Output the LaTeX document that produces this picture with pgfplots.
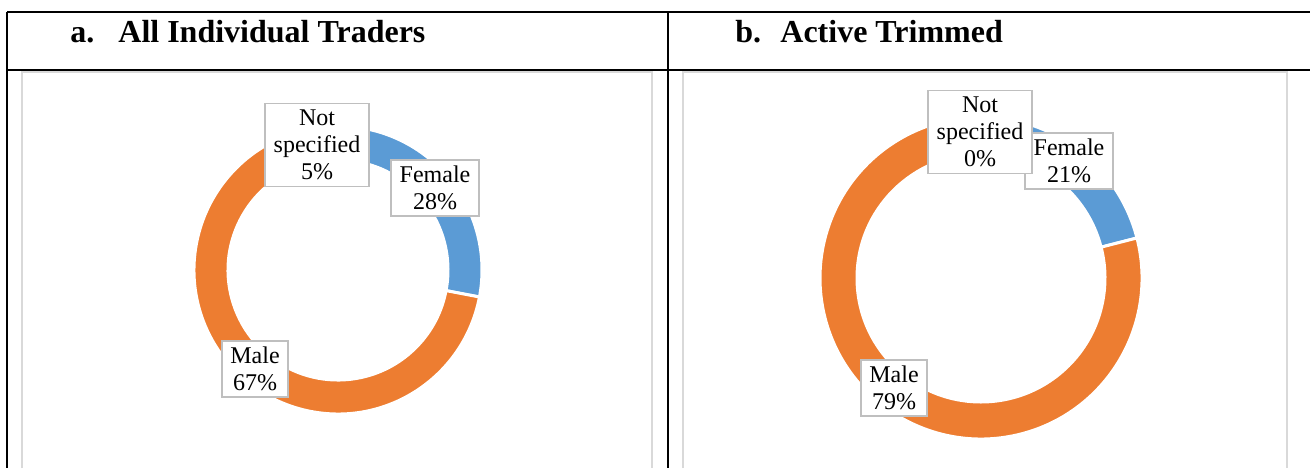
\documentclass[border=0pt]{standalone}
\usepackage{fontspec}
\setmainfont{Liberation Serif}
\usepackage{pgfplots}
\usepackage{pgfplotstable}
\pgfplotsset{compat=1.18}
\definecolor{cFemale}{HTML}{5B9BD5}
\definecolor{cMale}{HTML}{ED7D31}
\definecolor{cNotspec}{HTML}{A5A5A5}
\definecolor{boxline}{HTML}{BFBFBF}
\definecolor{frameline}{HTML}{D9D9D9}

% shares in percent, in Excel's slice order
\pgfplotstableread{
label value
Female 28
Male 67
Notspec 5
}\tradersall
\pgfplotstableread{
label value
Female 21
Male 79
Notspec 0
}\tradersactive

% donut from a table, clockwise from 12 o'clock
% #1 table, #2 cx, #3 cy, #4 outer r, #5 inner r (axis units, 1 unit = 0.5pt)
\newcommand{\donut}[5]{%
  \def\cum{0}%
  \pgfplotstablegetrowsof{#1}%
  \pgfmathtruncatemacro{\nrows}{\pgfplotsretval-1}%
  \pgfplotsforeachungrouped \i in {0,...,\nrows}{%
    \pgfplotstablegetelem{\i}{value}\of{#1}\let\val\pgfplotsretval
    \pgfplotstablegetelem{\i}{label}\of{#1}\let\lab\pgfplotsretval
    \pgfmathsetmacro{\aone}{90-3.6*\cum}%
    \pgfmathsetmacro{\atwo}{90-3.6*(\cum+\val)}%
    \pgfmathsetmacro{\px}{#2+#4*cos(\aone)}%
    \pgfmathsetmacro{\py}{#3+#4*sin(\aone)}%
    \pgfmathsetmacro{\qx}{#2+#5*cos(\atwo)}%
    \pgfmathsetmacro{\qy}{#3+#5*sin(\atwo)}%
    \pgfmathsetmacro{\ro}{0.5*#4}%
    \pgfmathsetmacro{\ri}{0.5*#5}%
    \edef\slice{\noexpand\filldraw[fill=c\lab, draw=white, line width=1.5pt]
      (axis cs:\px,\py) arc[start angle=\aone, end angle=\atwo, radius=\ro pt]
      -- (axis cs:\qx,\qy) arc[start angle=\atwo, end angle=\aone, radius=\ri pt] -- cycle;}%
    \slice
    \pgfmathsetmacro{\cum}{\cum+\val}%
  }%
}

\begin{document}
\begin{tikzpicture}[
    lbl/.style={draw=boxline, line width=0.9pt, fill=white, align=center,
      font=\fontsize{12}{13.5}\selectfont, inner xsep=4.3pt, inner ysep=3.2pt},
    ttl/.style={anchor=base west, font=\fontsize{16}{19}\selectfont\bfseries, inner sep=0pt},
]
\begin{axis}[
    x=0.5pt, y=0.5pt,
    xmin=0, xmax=1310, ymin=0, ymax=468,
    hide axis,
    clip=true,
]
% keep the full canvas in the bounding box
\path (axis cs:0,0) rectangle (axis cs:1310,468);
% table frame
\draw[line width=1pt] (axis cs:7,456) -- (axis cs:1310,456);
\draw[line width=1pt] (axis cs:7,398) -- (axis cs:1310,398);
\draw[line width=1pt] (axis cs:7,456) -- (axis cs:7,0);
\draw[line width=1pt] (axis cs:668,456) -- (axis cs:668,0);
\draw[frameline, line width=0.8pt] (axis cs:22,0) -- (axis cs:22,396) -- (axis cs:652,396) -- (axis cs:652,0);
\draw[frameline, line width=0.8pt] (axis cs:683,0) -- (axis cs:683,396) -- (axis cs:1287,396) -- (axis cs:1287,0);

\node[ttl] at (axis cs:70,426) {a.};
\node[ttl] at (axis cs:118,426) {All Individual Traders};
\node[ttl] at (axis cs:735,426) {b.};
\node[ttl] at (axis cs:780,426) {Active Trimmed};

\donut{\tradersall}{338}{198}{144}{110}
\donut{\tradersactive}{981}{190}{161}{124}

\node[lbl] at (axis cs:317,323) {Not\\specified\\5\%};
\node[lbl] at (axis cs:435,280) {Female\\28\%};
\node[lbl] at (axis cs:255,99) {Male\\67\%};

\node[lbl] at (axis cs:1069,307) {Female\\21\%};
\node[lbl] at (axis cs:980,336) {Not\\specified\\0\%};
\node[lbl] at (axis cs:894,80) {Male\\79\%};
\end{axis}
\end{tikzpicture}
\end{document}
